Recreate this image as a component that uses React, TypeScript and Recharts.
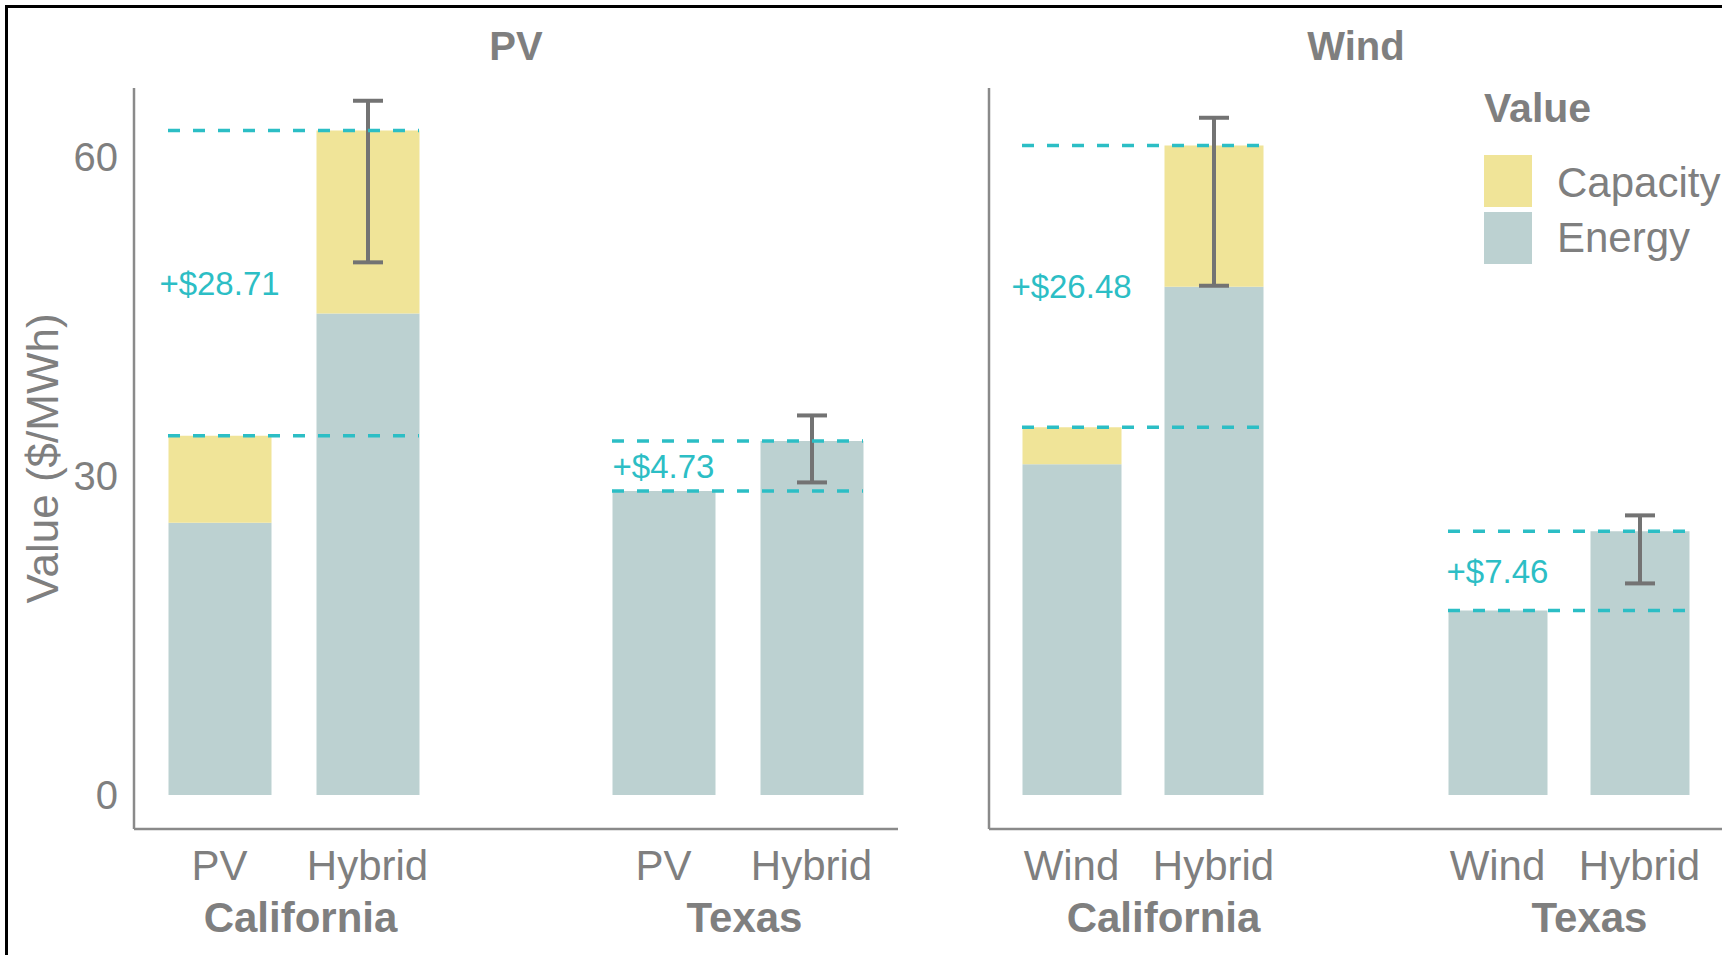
import React from 'react';
import {
  BarChart,
  Bar,
  XAxis,
  YAxis,
  ErrorBar,
  ReferenceLine,
  ReferenceDot,
  Legend
} from 'recharts';

// five slots per panel, the middle one is only a spacer between the regions
const slots = ['CA-base', 'CA-hybrid', 'spacer', 'TX-base', 'TX-hybrid'];
const regions = ['California', 'Texas'];
const pairs = [[0, 1], [3, 4]];
const yTicks = [0, 30, 60];
const legendOrder = ['Capacity', 'Energy'];

const pvTypes = ['PV', 'Hybrid', '', 'PV', 'Hybrid'];
const pvEnergy = [25.6, 45.3, null, 28.6, 33.3];
const pvCapacity = [8.2, 17.2, null, 0, 0];
const pvErrLow = [null, 50.1, null, null, 29.4];
const pvErrHigh = [null, 65.3, null, null, 35.7];
const pvPremiums = ['+$28.71', '+$4.73'];

const windTypes = ['Wind', 'Hybrid', '', 'Wind', 'Hybrid'];
const windEnergy = [31.1, 47.8, null, 17.35, 24.8];
const windCapacity = [3.5, 13.3, null, 0, 0];
const windErrLow = [null, 47.9, null, null, 19.9];
const windErrHigh = [null, 63.7, null, null, 26.3];
const windPremiums = ['+$26.48', '+$7.46'];

const GREY = '#7f7f7f';
const AXIS = '#8a8a8a';
const CYAN = '#2cbec5';
const ENERGY = '#bcd1d1';
const CAPACITY = '#f0e498';
const FONT = '"Liberation Sans", Arial, sans-serif';

// the error bar sits on whichever segment is the top of the stack
const buildRows = (energy, capacity, errLow, errHigh) =>
  slots.map((slot, i) => {
    const total = (energy[i] ?? 0) + (capacity[i] ?? 0);
    const err = errLow[i] == null ? null : [total - errLow[i], errHigh[i] - total];
    const capOnTop = (capacity[i] ?? 0) > 0;
    return {
      slot,
      energy: energy[i],
      capacity: capacity[i],
      total,
      errCap: capOnTop ? err : null,
      errEnergy: capOnTop ? null : err
    };
  });

const pvRows = buildRows(pvEnergy, pvCapacity, pvErrLow, pvErrHigh);
const windRows = buildRows(windEnergy, windCapacity, windErrLow, windErrHigh);

const makeTick = (types, slotWidth, shift) => (props) => {
  const { x, y, payload } = props;
  const i = slots.indexOf(payload.value);
  const region = i === 0 ? regions[0] : i === 3 ? regions[1] : null;
  return (
    <g>
      <text x={x} y={y + 51} textAnchor="middle" fill={GREY} fontSize={42}>
        {types[i]}
      </text>
      {region && (
        <text
          x={x + slotWidth / 2 + shift}
          y={y + 103}
          textAnchor="middle"
          fill={GREY}
          fontSize={42}
          fontWeight="bold"
        >
          {region}
        </text>
      )}
    </g>
  );
};

const dashShape = (half) => (p) => (
  <line
    x1={p.x1 - half}
    x2={p.x2 + half}
    y1={p.y1}
    y2={p.y2}
    stroke={CYAN}
    strokeWidth={3.5}
    strokeDasharray="12 13"
  />
);

const renderLegend = (props) => {
  const items = [...(props.payload ?? [])].sort(
    (a, b) => legendOrder.indexOf(a.value) - legendOrder.indexOf(b.value)
  );
  return (
    <svg width={240} height={200} style={{ fontFamily: FONT }}>
      <text x={2} y={42} fontSize={41} fontWeight="bold" fill={GREY}>
        Value
      </text>
      {items.map((it, k) => (
        <g key={it.value}>
          <rect x={2} y={75 + k * 57} width={48} height={52} fill={it.color} />
          <text x={75} y={117 + k * 55} fontSize={42} fill={GREY}>
            {it.value}
          </text>
        </g>
      ))}
    </svg>
  );
};

const errStyle = { direction: 'y', width: 15, strokeWidth: 4, stroke: '#737373', isAnimationActive: false };

const Panel = ({ rows, types, premiums, cfg }) => (
  <BarChart
    width={cfg.width}
    height={955}
    data={rows}
    margin={{ top: 88, right: cfg.right, bottom: 6, left: 0 }}
  >
    <XAxis
      dataKey="slot"
      height={120}
      interval={0}
      tickLine={false}
      tickSize={0}
      tickMargin={0}
      axisLine={{ stroke: AXIS, strokeWidth: 2.5 }}
      padding={cfg.padding}
      tick={makeTick(types, cfg.slot, cfg.shift)}
    />
    <YAxis
      width={cfg.yWidth}
      domain={[-3.2, 66.5]}
      allowDataOverflow
      ticks={yTicks}
      tickLine={false}
      tickSize={0}
      tickMargin={16}
      axisLine={{ stroke: AXIS, strokeWidth: 2.5 }}
      tick={cfg.yLabels ? { fill: GREY, fontSize: 40 } : false}
      label={
        cfg.yLabels
          ? { value: 'Value ($/MWh)', angle: -90, position: 'center', dx: -25, fill: GREY, fontSize: 44 }
          : undefined
      }
    />
    <Bar dataKey="energy" name="Energy" stackId="v" fill={ENERGY} barSize={cfg.bar} isAnimationActive={false}>
      <ErrorBar dataKey="errEnergy" {...errStyle} />
    </Bar>
    <Bar dataKey="capacity" name="Capacity" stackId="v" fill={CAPACITY} barSize={cfg.bar} isAnimationActive={false}>
      <ErrorBar dataKey="errCap" {...errStyle} />
    </Bar>
    {pairs.map(([a, b]) =>
      [a, b].map((k) => (
        <ReferenceLine
          key={`line-${a}-${k}`}
          segment={[
            { x: slots[a], y: rows[k].total },
            { x: slots[b], y: rows[k].total }
          ]}
          shape={dashShape(cfg.bar / 2)}
        />
      ))
    )}
    {pairs.map(([a, b], n) => (
      <ReferenceDot
        key={`premium-${a}`}
        x={slots[a]}
        y={(rows[a].total + rows[b].total) / 2}
        r={0}
        fill="none"
        stroke="none"
        label={{ value: premiums[n], position: 'center', fill: CYAN, fontSize: 33 }}
      />
    ))}
    {cfg.legend && (
      <Legend
        layout="vertical"
        align="center"
        verticalAlign="middle"
        content={renderLegend}
        wrapperStyle={{ left: 582, top: 80, width: 240, height: 200 }}
      />
    )}
  </BarChart>
);

const pvCfg = {
  width: 910,
  right: 12,
  yWidth: 134,
  yLabels: true,
  padding: { left: 11.5, right: 12.5 },
  bar: 103,
  slot: 148,
  shift: 7,
  legend: false
};

const windCfg = {
  width: 830,
  right: 0,
  yWidth: 89,
  yLabels: false,
  padding: { left: 11.5, right: 19.5 },
  bar: 99,
  slot: 142,
  shift: 21,
  legend: true
};

export default function App() {
  return (
    <div
      style={{
        position: 'absolute',
        left: 0,
        top: 0,
        width: 1722,
        height: 955,
        overflow: 'hidden',
        background: '#fff',
        fontFamily: FONT
      }}
    >
      <div style={{ position: 'absolute', left: 0, top: 0 }}>
        <Panel rows={pvRows} types={pvTypes} premiums={pvPremiums} cfg={pvCfg} />
      </div>
      <div style={{ position: 'absolute', left: 900, top: 0 }}>
        <Panel rows={windRows} types={windTypes} premiums={windPremiums} cfg={windCfg} />
      </div>
      <svg
        width={1722}
        height={955}
        style={{ position: 'absolute', left: 0, top: 0, pointerEvents: 'none' }}
      >
        <line x1={5} y1={6.5} x2={1722} y2={6.5} stroke="#000" strokeWidth={3} />
        <line x1={6.5} y1={5} x2={6.5} y2={955} stroke="#000" strokeWidth={3} />
        <text x={516} y={60} textAnchor="middle" fontWeight="bold" fontSize={40} fill={GREY}>
          PV
        </text>
        <text x={1356} y={60} textAnchor="middle" fontWeight="bold" fontSize={40} fill={GREY}>
          Wind
        </text>
      </svg>
    </div>
  );
}
